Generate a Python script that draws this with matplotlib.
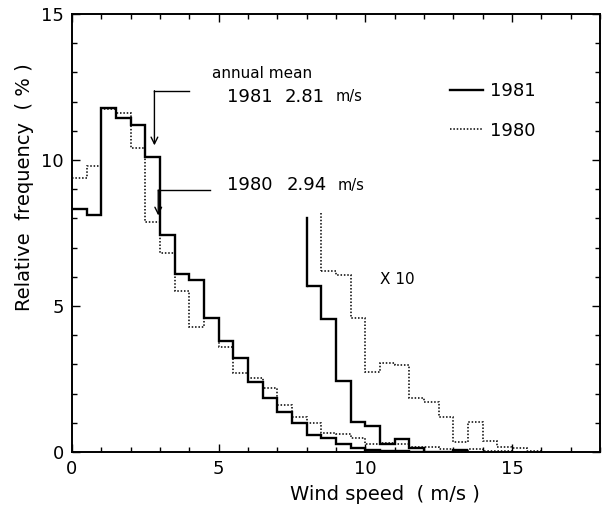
import numpy as np
import matplotlib
matplotlib.use("Agg")
import matplotlib.pyplot as plt
from matplotlib.lines import Line2D
from matplotlib.ticker import MultipleLocator

# Relative frequency (%) of wind speed in 0.5 m/s classes, starting at 0 m/s
BIN = 0.5
freq_1981 = [8.31, 8.12, 11.79, 11.43, 11.20, 10.11, 7.43, 6.10, 5.89, 4.58,
             3.81, 3.21, 2.41, 1.84, 1.38, 0.98, 0.58, 0.49, 0.27, 0.13,
             0.08, 0.03, 0.04, 0.01]
freq_1980 = [9.39, 9.79, 11.74, 11.62, 10.40, 7.89, 6.83, 5.52, 4.29, 4.60,
             3.61, 2.72, 2.52, 2.20, 1.61, 1.21, 1.00, 0.64, 0.62, 0.47,
             0.29, 0.30, 0.29, 0.18, 0.17, 0.12, 0.04, 0.10, 0.04, 0.02,
             0.01]

# high-wind tails magnified x10 (curves cut off at the top where they start)
x10_start_1981 = 8.0
x10_top_1981 = 8.0
x10_1981 = [5.70, 4.55, 2.43, 1.02, 0.89, 0.27, 0.43, 0.13, 0.0, 0.0, 0.07]
x10_start_1980 = 8.5
x10_top_1980 = 8.2
x10_1980 = [6.21, 6.06, 4.58, 2.75, 3.04, 2.98, 1.86, 1.70, 1.21, 0.35,
            1.02, 0.38, 0.16, 0.15, 0.05]

mean_1981 = 2.81
mean_1980 = 2.94


def edges(start, n):
    return start + BIN * np.arange(n + 1)


plt.rcParams["font.family"] = "DejaVu Sans"
fig = plt.figure(figsize=(6.07, 5.16), dpi=100)
ax = fig.add_axes([0.1186, 0.124, 0.8699, 0.849])

solid = dict(color="black", linewidth=1.7)
dotted = dict(color="black", linewidth=1.1, linestyle=(0, (1, 1.2)))

ax.stairs(freq_1981, edges(0, len(freq_1981)), baseline=None, fill=False,
          edgecolor="black", linewidth=1.7)
ax.stairs(freq_1980, edges(0, len(freq_1980)), baseline=None, fill=False,
          edgecolor="black", linewidth=1.1, linestyle=(0, (1, 1.2)))

# magnified tails
ax.stairs(x10_1981, edges(x10_start_1981, len(x10_1981)), baseline=None,
          fill=False, edgecolor="black", linewidth=1.7)
ax.plot([x10_start_1981, x10_start_1981], [x10_top_1981, x10_1981[0]], **solid)
ax.stairs(x10_1980, edges(x10_start_1980, len(x10_1980)), baseline=None,
          fill=False, edgecolor="black", linewidth=1.1, linestyle=(0, (1, 1.2)))
ax.plot([x10_start_1980, x10_start_1980], [x10_top_1980, x10_1980[0]], **dotted)
ax.text(10.5, 5.89, "X 10", fontsize=11, va="center")

# annual mean pointers
arrow = dict(arrowstyle="->", color="black", lw=1.0, shrinkA=0, shrinkB=0,
             mutation_scale=12)
ax.plot([4.0, mean_1981], [12.37, 12.37], color="black", lw=1.0)
ax.annotate("", xy=(mean_1981, 10.5), xytext=(mean_1981, 12.37),
            arrowprops=arrow)
ax.plot([4.7, mean_1980], [8.97, 8.97], color="black", lw=1.0)
ax.annotate("", xy=(mean_1980, 8.1), xytext=(mean_1980, 8.97),
            arrowprops=arrow)

ax.text(4.77, 12.97, "annual mean", fontsize=11, va="center")
ax.text(5.28, 12.16, "1981", fontsize=13, va="center")
ax.text(7.26, 12.16, f"{mean_1981:.2f}", fontsize=13, va="center")
ax.text(9.0, 12.16, "m/s", fontsize=10.5, va="center")
ax.text(5.28, 9.14, "1980", fontsize=13, va="center")
ax.text(7.33, 9.14, f"{mean_1980:.2f}", fontsize=13, va="center")
ax.text(9.05, 9.14, "m/s", fontsize=10.5, va="center")

handles = [Line2D([], [], **solid), Line2D([], [], **dotted)]
ax.legend(handles, ["1981", "1980"], loc="upper left",
          bbox_to_anchor=(0.716, 0.845), frameon=False, borderpad=0,
          borderaxespad=0, fontsize=13, handlelength=1.85,
          handletextpad=0.35, labelspacing=1.2)

ax.set_xlim(0, 18)
ax.set_ylim(0, 15)
ax.xaxis.set_major_locator(MultipleLocator(5))
ax.xaxis.set_minor_locator(MultipleLocator(1))
ax.yaxis.set_major_locator(MultipleLocator(5))
ax.yaxis.set_minor_locator(MultipleLocator(1))
ax.tick_params(which="both", direction="in", top=True, right=True,
               labelsize=13, width=1.0)
ax.tick_params(which="major", length=5.5, pad=6)
ax.tick_params(which="minor", length=3.6)
for s in ax.spines.values():
    s.set_linewidth(1.4)

ax.set_xlabel("Wind speed  ( m/s )", fontsize=14, va="center")
ax.xaxis.set_label_coords(0.593, -0.096)
ax.set_ylabel("Relative  frequency  ( % )", fontsize=14, va="center")
ax.yaxis.set_label_coords(-0.089, 0.605)

fig.savefig("out.png", dpi=100)
